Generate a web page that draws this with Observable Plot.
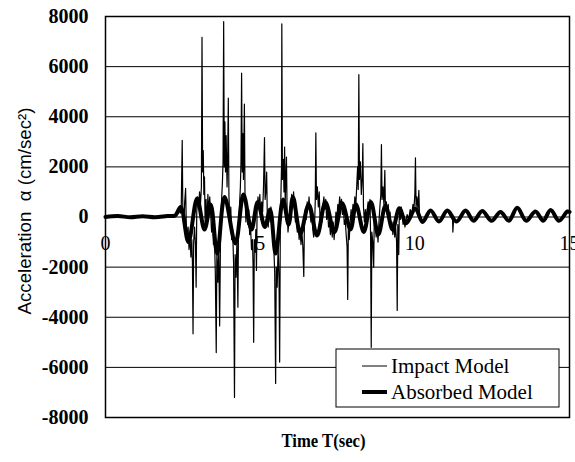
<!DOCTYPE html>
<html>
<head>
<meta charset="utf-8">
<script src="https://cdn.jsdelivr.net/npm/d3@7"></script>
<script src="https://cdn.jsdelivr.net/npm/@observablehq/plot@0.6"></script>
<style>
  html, body { margin: 0; padding: 0; background: #fff; }
  #chart { width: 575px; height: 462px; overflow: hidden; }
</style>
</head>
<body>
<div id="chart"></div>
<script>
// ---- data ----
const yTicks = [-8000, -6000, -4000, -2000, 0, 2000, 4000, 6000, 8000];
const xTicks = [0, 5, 10, 15];
const xTitle = "Time T(sec)";
const yTitle = "Acceleration  α (cm/sec²)";
const seriesNames = ["Impact Model", "Absorbed Model"];

// Impact Model (thin line): [time (s), acceleration (cm/s²)]
const impactPoints = [
  [0,0],[0.4,40],[0.8,-10],[1.2,30],[1.6,-10],[2.0,40],[2.2,40],[2.3,120],[2.36,300],[2.42,150],[2.45,500],[2.48,3060],[2.50,300],[2.53,-400],[2.56,600],[2.59,1140],[2.61,-200],[2.64,-900],[2.67,-400],[2.70,-1300],[2.73,-700],[2.76,-1600],[2.79,-900],[2.81,-1800],[2.83,-4660],[2.85,-1000],[2.88,-400],[2.91,-1200],[2.93,-2800],[2.95,200],[2.98,800],
  [3.01,300],[3.04,1000],[3.07,500],[3.10,1200],[3.12,7170],[3.14,1800],[3.16,2650],[3.18,900],[3.20,1600],[3.22,-200],[3.25,700],[3.28,-300],[3.31,900],[3.34,200],[3.37,800],[3.40,100],[3.43,-600],[3.46,-200],[3.49,-1100],[3.52,-700],[3.55,-2200],[3.58,-5410],[3.60,-1500],[3.63,-2600],[3.66,-1100],[3.69,-4350],[3.72,-600],[3.75,600],[3.78,1400],[3.80,2200],[3.82,7800],[3.84,2000],[3.86,3800],[3.88,1800],[3.90,3250],[3.93,1200],[3.95,2400],[3.97,4740],[3.99,900],
  [4.02,-300],[4.05,400],[4.08,-900],[4.11,-500],[4.14,-1800],[4.17,-7200],[4.19,-1500],[4.22,-2400],[4.25,-900],[4.28,-3600],[4.30,-400],[4.33,400],[4.36,1200],[4.38,2200],[4.40,5740],[4.42,1800],[4.44,3330],[4.46,1500],[4.49,4500],[4.51,800],[4.54,-200],[4.57,500],[4.60,-300],[4.63,300],[4.66,-700],[4.69,-400],[4.72,-1300],[4.75,-900],[4.77,-1900],[4.79,-5000],[4.81,-900],[4.84,-1400],[4.86,-500],[4.88,-2130],[4.90,200],[4.93,800],[4.96,300],[4.99,900],
  [5.02,-100],[5.05,600],[5.08,200],[5.11,1300],[5.14,3170],[5.16,700],[5.19,1100],[5.21,1790],[5.23,100],[5.26,-400],[5.29,300],[5.32,-200],[5.35,400],[5.38,-600],[5.41,-400],[5.44,-1200],[5.47,-2200],[5.50,-6640],[5.52,-2000],[5.55,-2800],[5.58,-1200],[5.61,-2500],[5.63,-5790],[5.65,-700],[5.67,800],[5.69,2000],[5.70,7710],[5.72,1500],[5.75,2300],[5.77,1000],[5.79,2790],[5.81,600],[5.83,1500],[5.85,2390],[5.87,300],[5.90,-600],[5.93,-200],[5.96,400],[5.99,-100],
  [6.02,900],[6.05,400],[6.08,1000],[6.11,300],[6.14,-200],[6.17,200],[6.20,-600],[6.23,-300],[6.26,-900],[6.29,-500],[6.32,-1100],[6.35,-600],[6.38,-1200],[6.41,-2370],[6.43,-300],[6.46,300],[6.49,-100],[6.52,600],[6.55,300],[6.58,800],[6.61,200],[6.64,-200],[6.67,300],[6.70,-500],[6.73,-800],[6.76,-300],[6.78,600],[6.80,3360],[6.82,700],[6.85,1200],[6.88,400],[6.91,1000],[6.94,-300],[6.97,200],
  [7.00,-200],[7.03,500],[7.06,800],[7.09,300],[7.12,700],[7.15,-100],[7.18,300],[7.21,-400],[7.24,-200],[7.27,-700],[7.30,-300],[7.33,-800],[7.36,-200],[7.39,-900],[7.42,-400],[7.45,200],[7.48,-100],[7.51,500],[7.54,300],[7.57,800],[7.60,400],[7.63,700],[7.66,100],[7.69,400],[7.72,-300],[7.75,-100],[7.78,-700],[7.81,-1200],[7.83,-3290],[7.85,-500],[7.88,-900],[7.91,-200],[7.94,300],[7.97,-100],
  [8.00,500],[8.03,200],[8.06,800],[8.09,400],[8.12,1200],[8.15,2000],[8.17,1100],[8.19,5680],[8.21,1500],[8.24,2200],[8.27,900],[8.30,1600],[8.32,2930],[8.34,400],[8.37,-200],[8.40,300],[8.43,-400],[8.46,200],[8.49,600],[8.52,100],[8.55,700],[8.57,-800],[8.59,-5200],[8.61,-600],[8.64,-1000],[8.67,-2000],[8.69,100],[8.72,-300],[8.75,-800],[8.78,-400],[8.81,-1000],[8.84,-200],[8.87,400],[8.90,900],[8.92,2890],[8.94,700],[8.97,1200],
  [9.00,500],[9.03,1860],[9.05,300],[9.08,600],[9.11,100],[9.14,500],[9.17,-200],[9.20,200],[9.23,-400],[9.26,-200],[9.29,-700],[9.32,-300],[9.35,-800],[9.38,-400],[9.41,-1000],[9.43,-3730],[9.45,-300],[9.48,-1500],[9.50,300],[9.53,-100],[9.56,400],[9.59,100],[9.62,-300],[9.65,-100],[9.68,-400],[9.71,-200],[9.75,100],[9.80,-100],[9.85,300],[9.90,100],[9.94,500],[9.97,300],
  [10.00,900],[10.02,2360],[10.04,400],[10.07,800],[10.10,300],[10.13,1060],[10.15,100],[10.20,-100],[10.25,-200],[10.51,250],[10.78,-180],[11.05,250],[11.22,-100],[11.23,-600],[11.25,-150],[11.35,-180],[11.64,250],[11.90,-150],[12.18,240],[12.48,-150],[12.77,200],[13.04,-150],[13.31,370],[13.60,-150],[13.90,220],[14.15,-150],[14.39,280],[14.66,-150],[14.93,220],[15.0,200]
];

// Absorbed Model (thick line): extrema of the smooth response [time, value]
const absorbedT = [0,0.4,0.8,1.2,1.6,2.0,2.25,2.43,2.68,2.96,3.20,3.40,3.61,3.85,4.20,4.46,4.72,4.92,5.15,5.32,5.50,5.74,5.92,6.06,6.30,6.57,6.84,7.11,7.40,7.65,7.92,8.10,8.35,8.58,8.82,9.05,9.28,9.50,9.72,10.02,10.25,10.51,10.78,11.05,11.35,11.64,11.90,12.18,12.48,12.77,13.04,13.31,13.60,13.90,14.15,14.39,14.66,14.93,15.0];
const absorbedV = [0,40,-10,30,-10,40,60,400,-1000,740,-500,500,-1460,800,-1060,900,-500,600,-400,300,-1460,700,-300,800,-660,500,-740,590,-600,550,-500,500,-600,600,-700,450,-500,350,-250,330,-200,260,-180,260,-180,260,-150,240,-150,200,-150,370,-150,220,-150,280,-150,220,200];

const impact = impactPoints.map(([t, v]) => ({t, v}));
const absorbed = absorbedT.map((t, i) => ({t, v: absorbedV[i]}));

const plot = Plot.plot({
  width: 575,
  height: 462,
  marginLeft: 105,
  marginRight: 6,
  marginTop: 16,
  marginBottom: 45,
  style: {fontFamily: "'Liberation Serif', 'Times New Roman', serif", background: "white", color: "black", overflow: "visible"},
  x: {domain: [0, 15], axis: null},
  y: {domain: [-8000, 8000], axis: null},
  marks: [
    Plot.gridY(yTicks, {stroke: "black", strokeOpacity: 1, strokeWidth: 1}),
    Plot.axisY(yTicks, {tickSize: 0, tickPadding: 17, fontSize: 20, fontWeight: "bold", label: null, tickFormat: d => String(d)}),
    Plot.line(impact, {x: "t", y: "v", stroke: "black", strokeWidth: 1.2}),
    Plot.line(absorbed, {x: "t", y: "v", stroke: "black", strokeWidth: 4, curve: "catmull-rom"}),
    Plot.text(xTicks, {x: d => d, y: () => 0, dy: 27, fontSize: 20, text: d => String(d)}),
    Plot.frame({stroke: "black", strokeWidth: 1.5}),
    Plot.text([xTitle], {frameAnchor: "bottom", textAnchor: "middle", lineAnchor: "middle", dx: -14, dy: 24, fontSize: 18, fontWeight: "bold"}),
    Plot.text([yTitle], {frameAnchor: "left", textAnchor: "middle", lineAnchor: "middle", dx: -81, dy: -6, rotate: -90, fontSize: 19, fontFamily: "'Liberation Sans', Arial, sans-serif"})
  ]
});

document.getElementById("chart").appendChild(plot);

const svg = d3.select(plot);
// fit the titles to the reference lengths
svg.selectAll("text").filter(function () { return this.textContent === yTitle; })
  .attr("textLength", 207).attr("lengthAdjust", "spacingAndGlyphs");
svg.selectAll("text").filter(function () { return this.textContent === xTitle; })
  .attr("textLength", 84).attr("lengthAdjust", "spacingAndGlyphs");

// legend box (layout only)
const lg = svg.append("g").attr("font-family", "'Liberation Serif', 'Times New Roman', serif").attr("font-size", 21).attr("text-anchor", "start");
lg.append("rect").attr("x", 336).attr("y", 349).attr("width", 223).attr("height", 58)
  .attr("fill", "white").attr("stroke", "black").attr("stroke-width", 1);
[[1, 366], [4, 392]].forEach(([sw, yy], i) => {
  lg.append("line").attr("x1", 362).attr("x2", 387).attr("y1", yy).attr("y2", yy)
    .attr("stroke", "black").attr("stroke-width", sw);
  lg.append("text").attr("x", 391).attr("y", yy).attr("dy", "0.35em").attr("fill", "black")
    .attr("text-anchor", "start").text(seriesNames[i]);
});
</script>
</body>
</html>
